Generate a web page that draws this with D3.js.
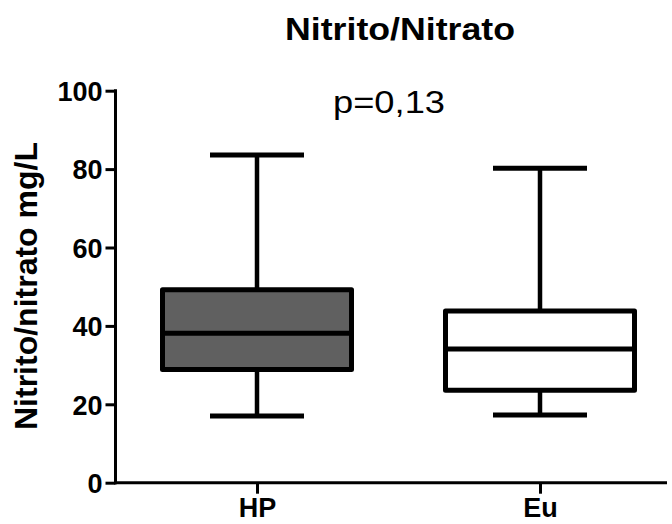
<html>
<head>
    <meta charset="UTF-8">
    <title>Nitrito/Nitrato</title>
    <script src="https://d3js.org/d3.v7.min.js"></script>
    <style>
        body { margin: 0; background: #fff; }
        text { font-family: "Liberation Sans", Arial, sans-serif; fill: #000; }
    </style>
</head>
<body>
    <svg width="672" height="524"></svg>
    <script>
        // dados (min, Q1, mediana, Q3, max)
        var groups = ['HP', 'Eu'];
        var mins = [17.0, 17.3];
        var q1s = [28.9, 23.6];
        var medians = [38.1, 34.1];
        var q3s = [49.2, 43.8];
        var maxs = [83.6, 80.2];
        var fills = ['#606060', '#ffffff'];
        var yTicks = [0, 20, 40, 60, 80, 100];

        var svg = d3.select('svg');

        var x = d3.scalePoint().domain(groups).range([257, 540]);
        var y = d3.scaleLinear().domain([0, 100]).range([482.7, 90.7]);

        var boxW = 189, capW = 94;

        var data = groups.map(function(g, i) {
            return { g: g, min: mins[i], q1: q1s[i], med: medians[i], q3: q3s[i], max: maxs[i], fill: fills[i] };
        });

        // título
        svg.append('text')
            .attr('x', 400).attr('y', 40)
            .attr('text-anchor', 'middle')
            .attr('font-size', 32).attr('font-weight', 'bold')
            .attr('textLength', 230).attr('lengthAdjust', 'spacingAndGlyphs')
            .text('Nitrito/Nitrato');

        svg.append('text')
            .attr('x', 389).attr('y', 113)
            .attr('text-anchor', 'middle')
            .attr('font-size', 32)
            .attr('textLength', 112).attr('lengthAdjust', 'spacingAndGlyphs')
            .text('p=0,13');

        // eixo Y
        var yAxis = svg.append('g')
            .attr('transform', 'translate(115.5,0)')
            .call(d3.axisLeft(y).tickValues(yTicks).tickSize(10).tickSizeOuter(0).tickPadding(3));
        yAxis.select('.domain').remove();
        yAxis.selectAll('.tick line').attr('stroke', '#000').attr('stroke-width', 3);
        yAxis.selectAll('.tick text')
            .attr('font-size', 27).attr('font-weight', 'bold')
            .attr('font-family', '"Liberation Sans", Arial, sans-serif')
            .attr('dy', '0.36em');

        svg.append('line')
            .attr('x1', 115.5).attr('x2', 115.5)
            .attr('y1', y(100) - 1.5).attr('y2', y(0) + 1.5)
            .attr('stroke', '#000').attr('stroke-width', 3);

        // eixo X
        var xAxis = svg.append('g')
            .attr('transform', 'translate(0,' + y(0) + ')')
            .call(d3.axisBottom(x).tickSize(11).tickSizeOuter(0).tickPadding(4));
        xAxis.select('.domain').remove();
        xAxis.selectAll('.tick line').attr('stroke', '#000').attr('stroke-width', 3);
        xAxis.selectAll('.tick text')
            .attr('font-size', 27).attr('font-weight', 'bold')
            .attr('font-family', '"Liberation Sans", Arial, sans-serif');

        svg.append('line')
            .attr('x1', 114).attr('x2', 667)
            .attr('y1', y(0)).attr('y2', y(0))
            .attr('stroke', '#000').attr('stroke-width', 3);

        // rótulo do eixo Y
        svg.append('text')
            .attr('transform', 'translate(37,286) rotate(-90)')
            .attr('text-anchor', 'middle')
            .attr('font-size', 32).attr('font-weight', 'bold')
            .text('Nitrito/nitrato mg/L');

        // caixas
        var box = svg.append('g').selectAll('g')
            .data(data).enter().append('g');

        box.append('line')
            .attr('x1', d => x(d.g)).attr('x2', d => x(d.g))
            .attr('y1', d => y(d.max)).attr('y2', d => y(d.min))
            .attr('stroke', '#000').attr('stroke-width', 4.5);

        box.append('line')
            .attr('x1', d => x(d.g) - capW / 2).attr('x2', d => x(d.g) + capW / 2)
            .attr('y1', d => y(d.max)).attr('y2', d => y(d.max))
            .attr('stroke', '#000').attr('stroke-width', 5);

        box.append('line')
            .attr('x1', d => x(d.g) - capW / 2).attr('x2', d => x(d.g) + capW / 2)
            .attr('y1', d => y(d.min)).attr('y2', d => y(d.min))
            .attr('stroke', '#000').attr('stroke-width', 5);

        box.append('rect')
            .attr('x', d => x(d.g) - boxW / 2)
            .attr('y', d => y(d.q3))
            .attr('width', boxW)
            .attr('height', d => y(d.q1) - y(d.q3))
            .attr('fill', d => d.fill)
            .attr('stroke', '#000').attr('stroke-width', 5)
            .attr('stroke-linejoin', 'round');

        box.append('line')
            .attr('x1', d => x(d.g) - boxW / 2).attr('x2', d => x(d.g) + boxW / 2)
            .attr('y1', d => y(d.med)).attr('y2', d => y(d.med))
            .attr('stroke', '#000').attr('stroke-width', 5);
    </script>
</body>
</html>
